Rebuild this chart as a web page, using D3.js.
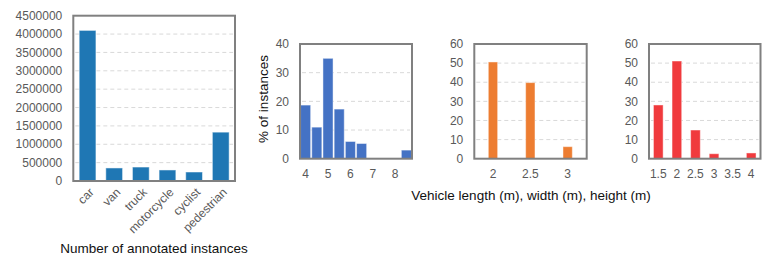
<!DOCTYPE html>
<html><head><meta charset="utf-8">
<script src="https://cdn.jsdelivr.net/npm/d3@7"></script>
<style>body{margin:0;background:#fff}svg{display:block;font-family:"Liberation Sans",Arial,sans-serif}</style>
</head><body><svg id="c" width="775" height="265"></svg>
<script>
// ---- data ----
const categories = ["car","van","truck","motorcycle","cyclist","pedestrian"];
const counts = [4100000, 355000, 380000, 300000, 245000, 1330000];
const countTicks = [0,500000,1000000,1500000,2000000,2500000,3000000,3500000,4000000,4500000];

const lengthBins = [4, 4.5, 5, 5.5, 6, 6.5, 7, 7.5, 8, 8.5];
const lengthPct  = [18.7, 11.0, 35.0, 17.3, 6.0, 5.3, 0, 0, 0, 3.0];
const lengthTicks = [4,5,6,7,8];
const lengthYTicks = [0,10,20,30,40];

const widthBins = [2, 2.5, 3];
const widthPct  = [50.6, 39.8, 6.3];
const widthTicks = [2, 2.5, 3];

const heightBins = [1.5, 2, 2.5, 3, 3.5, 4];
const heightPct  = [28.1, 51.1, 15.0, 2.6, 0, 3.0];
const heightTicks = [1.5, 2, 2.5, 3, 3.5, 4];
const pctYTicks = [0,10,20,30,40,50,60];

const svg = d3.select("#c");
const tickColor = "#595959";
const gridColor = "#d9d9d9";
const frameColor = "#808080";

function frame(g, x0, x1, y0, y1){
  g.append("rect").attr("x",x0).attr("y",y0).attr("width",x1-x0).attr("height",y1-y0)
   .attr("fill","none").attr("stroke",frameColor).attr("stroke-width",2);
}
function yAxis(g, y, ticks, x0, x1, fmt){
  ticks.forEach((t,i)=>{
    if(i>0 && i<ticks.length-1){
      g.append("line").attr("x1",x0+2).attr("x2",x1-2).attr("y1",y(t)).attr("y2",y(t))
       .attr("stroke",gridColor).attr("stroke-width",1).attr("stroke-dasharray","4,3");
    }
    g.append("text").attr("x",x0-11).attr("y",y(t)).attr("dy","0.35em")
     .attr("text-anchor","end").attr("font-size",12).attr("fill",tickColor).text(fmt?fmt(t):t);
  });
}

// ---- chart 1: counts ----
{
  const x0=73.3,x1=235,y0=15.7,y1=181;
  const g = svg.append("g");
  const x = d3.scaleBand().domain(categories).range([x0,x1]).paddingInner(0.37).paddingOuter(0.22);
  const y = d3.scaleLinear().domain([0,4500000]).range([y1,y0]);
  yAxis(g,y,countTicks,x0,x1);
  g.selectAll(".b").data(categories).join("rect")
   .attr("x",d=>x(d)).attr("width",x.bandwidth())
   .attr("y",(d,i)=>y(counts[i])).attr("height",(d,i)=>y1-y(counts[i]))
   .attr("fill","#1f77b4").attr("stroke","#ffffff").attr("stroke-opacity",0.5).attr("stroke-width",1);
  frame(g,x0,x1,y0,y1);
  g.selectAll(".xl").data(categories).join("text")
   .attr("transform",d=>`translate(${x(d)+x.bandwidth()/2+4},${y1+9}) rotate(-45)`)
   .attr("text-anchor","end").attr("dy","0.35em").attr("font-size",12).attr("fill",tickColor).text(d=>d);
  g.append("text").attr("x",154).attr("y",253).attr("text-anchor","middle")
   .attr("font-size",13.5).attr("fill","#111").text("Number of annotated instances");
}

function hist(x0,x1,domain,bins,vals,ticks,yDomain,yTicks,barW,color){
  const y0=44,y1=158.7;
  const g = svg.append("g");
  const x = d3.scaleLinear().domain(domain).range([x0,x1]);
  const y = d3.scaleLinear().domain(yDomain).range([y1,y0]);
  yAxis(g,y,yTicks,x0,x1);
  const w = x(barW)-x(0);
  g.selectAll(".b").data(bins).join("rect")
   .attr("x",d=>x(d)-w/2).attr("width",w)
   .attr("y",(d,i)=>y(vals[i])).attr("height",(d,i)=>y1-y(vals[i]))
   .attr("fill",color).attr("stroke","#ffffff").attr("stroke-opacity",0.45).attr("stroke-width",1)
   .attr("display",(d,i)=>vals[i]>0?null:"none");
  frame(g,x0,x1,y0,y1);
  g.selectAll(".xl").data(ticks).join("text")
   .attr("x",d=>x(d)).attr("y",y1+19.5).attr("text-anchor","middle")
   .attr("font-size",12).attr("fill",tickColor).text(d=>d);
  return g;
}

hist(300,412,[3.75,8.75],lengthBins,lengthPct,lengthTicks,[0,40],lengthYTicks,0.45,"#4472c4");
hist(474.3,586.7,[1.75,3.255],widthBins,widthPct,widthTicks,[0,60],pctYTicks,0.125,"#ed7d31");
hist(649,760.5,[1.25,4.25],heightBins,heightPct,heightTicks,[0,60],pctYTicks,0.26,"#f03a3d");

svg.append("text").attr("transform","translate(268,99) rotate(-90)").attr("text-anchor","middle")
  .attr("font-size",13.5).attr("fill","#111").text("% of instances");
svg.append("text").attr("x",531).attr("y",200).attr("text-anchor","middle")
  .attr("font-size",13.5).attr("fill","#111").text("Vehicle length (m), width (m), height (m)");
</script></body></html>
